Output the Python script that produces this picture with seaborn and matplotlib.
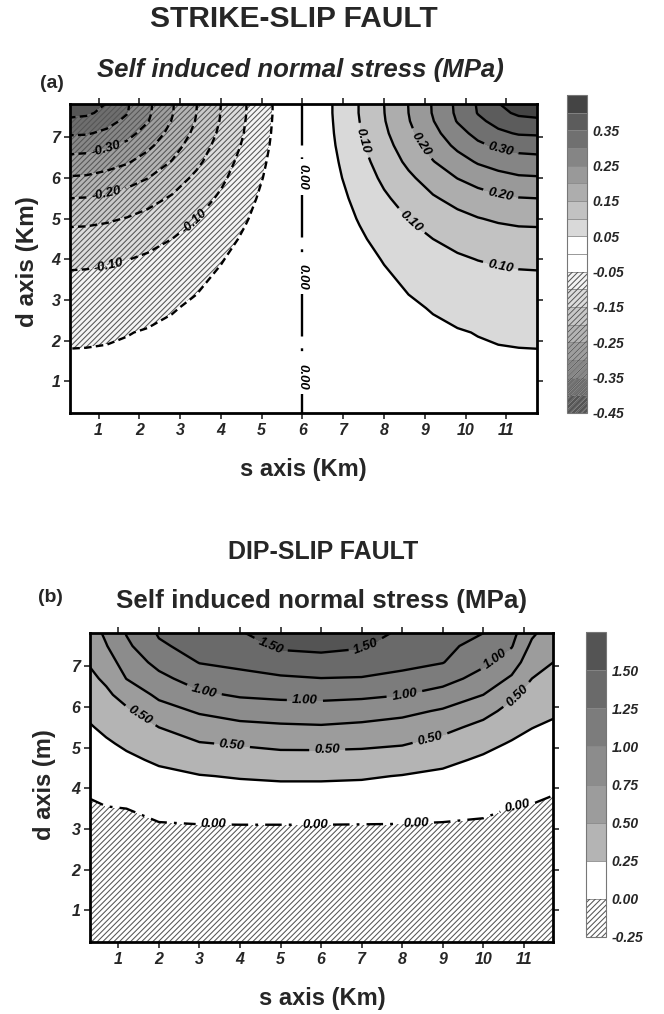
import numpy as np
import matplotlib
matplotlib.use("Agg")
import matplotlib.pyplot as plt
import matplotlib.colors as mcolors
import matplotlib.patches as mpatches
import seaborn as sns

# ------------------------------------------------------------------
# Data (stress in MPa on an s-d grid)
# ------------------------------------------------------------------
# (a) strike-slip fault
s_a_left = [0.25, 0.7, 1.2, 1.7, 2.2, 2.8, 3.4, 4.0, 4.6, 5.1, 5.6]
s_a_right = [6.4, 6.9, 7.4, 8.0, 8.6, 9.2, 9.8, 10.3, 10.8, 11.3, 11.75]
d_a = [0.2, 1.0, 1.6, 2.2, 2.8, 3.4, 4.0, 4.5, 5.0, 5.5, 6.0, 6.4, 6.8, 7.1, 7.4, 7.6, 7.85]

stress_a_left = [
    [-0.039, -0.038, -0.037, -0.035, -0.033, -0.030, -0.026, -0.021, -0.015, -0.010, -0.005],
    [-0.043, -0.043, -0.042, -0.040, -0.038, -0.034, -0.030, -0.024, -0.018, -0.012, -0.005],
    [-0.047, -0.047, -0.046, -0.045, -0.042, -0.038, -0.033, -0.027, -0.020, -0.013, -0.006],
    [-0.056, -0.055, -0.054, -0.051, -0.048, -0.044, -0.038, -0.031, -0.023, -0.015, -0.007],
    [-0.070, -0.069, -0.067, -0.064, -0.059, -0.052, -0.045, -0.036, -0.027, -0.018, -0.008],
    [-0.088, -0.087, -0.084, -0.080, -0.074, -0.065, -0.054, -0.043, -0.031, -0.021, -0.009],
    [-0.110, -0.109, -0.106, -0.101, -0.094, -0.082, -0.068, -0.052, -0.038, -0.025, -0.011],
    [-0.133, -0.132, -0.128, -0.122, -0.113, -0.100, -0.083, -0.064, -0.044, -0.029, -0.013],
    [-0.162, -0.161, -0.156, -0.148, -0.137, -0.120, -0.101, -0.077, -0.053, -0.034, -0.015],
    [-0.200, -0.198, -0.191, -0.180, -0.165, -0.145, -0.119, -0.093, -0.063, -0.039, -0.017],
    [-0.246, -0.244, -0.234, -0.219, -0.201, -0.172, -0.141, -0.109, -0.074, -0.046, -0.019],
    [-0.282, -0.279, -0.270, -0.255, -0.230, -0.198, -0.160, -0.121, -0.083, -0.051, -0.021],
    [-0.322, -0.319, -0.309, -0.290, -0.261, -0.220, -0.176, -0.133, -0.092, -0.056, -0.023],
    [-0.356, -0.354, -0.341, -0.315, -0.282, -0.235, -0.188, -0.141, -0.097, -0.059, -0.024],
    [-0.389, -0.383, -0.365, -0.340, -0.303, -0.248, -0.197, -0.147, -0.100, -0.061, -0.025],
    [-0.416, -0.410, -0.384, -0.352, -0.309, -0.253, -0.200, -0.149, -0.102, -0.062, -0.026],
    [-0.436, -0.422, -0.400, -0.355, -0.311, -0.254, -0.201, -0.150, -0.102, -0.062, -0.026],
]
stress_a_right = [
    [0.005, 0.010, 0.015, 0.021, 0.026, 0.030, 0.033, 0.035, 0.037, 0.038, 0.039],
    [0.005, 0.012, 0.018, 0.024, 0.030, 0.034, 0.038, 0.040, 0.042, 0.043, 0.043],
    [0.006, 0.013, 0.020, 0.027, 0.033, 0.038, 0.042, 0.045, 0.046, 0.047, 0.047],
    [0.007, 0.015, 0.023, 0.031, 0.038, 0.044, 0.048, 0.051, 0.054, 0.055, 0.056],
    [0.008, 0.018, 0.027, 0.036, 0.045, 0.052, 0.059, 0.064, 0.067, 0.069, 0.070],
    [0.009, 0.021, 0.031, 0.043, 0.054, 0.065, 0.074, 0.080, 0.084, 0.087, 0.088],
    [0.011, 0.025, 0.038, 0.052, 0.068, 0.082, 0.094, 0.101, 0.106, 0.109, 0.110],
    [0.013, 0.029, 0.044, 0.064, 0.083, 0.100, 0.113, 0.122, 0.128, 0.132, 0.133],
    [0.015, 0.034, 0.053, 0.077, 0.101, 0.120, 0.137, 0.148, 0.156, 0.161, 0.162],
    [0.017, 0.039, 0.063, 0.093, 0.119, 0.145, 0.165, 0.180, 0.191, 0.198, 0.200],
    [0.019, 0.046, 0.074, 0.109, 0.141, 0.172, 0.201, 0.219, 0.234, 0.244, 0.246],
    [0.021, 0.051, 0.083, 0.121, 0.160, 0.198, 0.230, 0.255, 0.270, 0.279, 0.282],
    [0.023, 0.056, 0.092, 0.133, 0.176, 0.220, 0.261, 0.290, 0.309, 0.319, 0.322],
    [0.024, 0.059, 0.097, 0.141, 0.188, 0.235, 0.282, 0.315, 0.341, 0.354, 0.356],
    [0.025, 0.061, 0.100, 0.147, 0.197, 0.248, 0.303, 0.340, 0.365, 0.383, 0.389],
    [0.026, 0.062, 0.102, 0.149, 0.200, 0.253, 0.309, 0.352, 0.384, 0.410, 0.416],
    [0.026, 0.062, 0.102, 0.150, 0.201, 0.254, 0.311, 0.355, 0.400, 0.422, 0.436],
]

# (b) dip-slip fault
s_b = [0.25, 0.7, 1.2, 2, 3, 4, 5, 6, 7, 8, 9, 10, 10.7, 11.2, 11.75]
d_b = [0.2, 1.5, 2.7, 3.1, 3.5, 3.9, 4.3, 4.7, 5.1, 5.5, 5.9, 6.3, 6.7, 7.1, 7.5, 7.85]
stress_b = [
    [-0.200] * 15,
    [-0.128, -0.124, -0.121, -0.115, -0.112, -0.111, -0.111, -0.111, -0.112, -0.112, -0.115, -0.118, -0.122, -0.126, -0.129],
    [-0.062, -0.054, -0.048, -0.036, -0.030, -0.029, -0.029, -0.029, -0.030, -0.032, -0.036, -0.042, -0.051, -0.057, -0.064],
    [-0.040, -0.030, -0.024, -0.010, -0.003, -0.001, -0.001, -0.001, -0.003, -0.005, -0.010, -0.016, -0.027, -0.034, -0.042],
    [-0.018, -0.007, 0.000, 0.047, 0.074, 0.084, 0.088, 0.088, 0.083, 0.071, 0.049, 0.023, -0.003, -0.011, -0.020],
    [0.009, 0.042, 0.069, 0.122, 0.157, 0.173, 0.181, 0.181, 0.174, 0.156, 0.127, 0.088, 0.052, 0.028, 0.004],
    [0.064, 0.102, 0.139, 0.197, 0.240, 0.266, 0.283, 0.283, 0.273, 0.241, 0.205, 0.153, 0.112, 0.084, 0.057],
    [0.118, 0.163, 0.208, 0.283, 0.361, 0.391, 0.414, 0.414, 0.407, 0.377, 0.303, 0.218, 0.172, 0.140, 0.110],
    [0.172, 0.223, 0.285, 0.391, 0.487, 0.520, 0.555, 0.558, 0.545, 0.517, 0.428, 0.311, 0.232, 0.197, 0.164],
    [0.226, 0.294, 0.374, 0.500, 0.629, 0.684, 0.711, 0.725, 0.697, 0.656, 0.566, 0.433, 0.321, 0.254, 0.217],
    [0.291, 0.374, 0.462, 0.652, 0.777, 0.855, 0.882, 0.892, 0.866, 0.813, 0.723, 0.578, 0.423, 0.336, 0.277],
    [0.365, 0.454, 0.594, 0.798, 0.955, 1.027, 1.053, 1.064, 1.047, 1.005, 0.906, 0.750, 0.543, 0.418, 0.350],
    [0.439, 0.542, 0.755, 0.935, 1.115, 1.181, 1.217, 1.245, 1.236, 1.193, 1.094, 0.909, 0.716, 0.500, 0.423],
    [0.510, 0.640, 0.853, 1.074, 1.259, 1.304, 1.390, 1.421, 1.388, 1.310, 1.259, 1.048, 0.875, 0.600, 0.496],
    [0.569, 0.738, 0.951, 1.215, 1.334, 1.403, 1.536, 1.554, 1.522, 1.395, 1.313, 1.160, 1.015, 0.700, 0.562],
    [0.620, 0.800, 1.020, 1.280, 1.400, 1.490, 1.620, 1.640, 1.600, 1.470, 1.360, 1.260, 1.080, 0.800, 0.620],
]

levels_a = [-0.45, -0.40, -0.35, -0.30, -0.25, -0.20, -0.15, -0.10, -0.05, 0.0,
            0.05, 0.10, 0.15, 0.20, 0.25, 0.30, 0.35, 0.40, 0.45]
cbar_ticks_a = [-0.45, -0.35, -0.25, -0.15, -0.05, 0.05, 0.15, 0.25, 0.35]
levels_b = [-0.25, 0.0, 0.25, 0.5, 0.75, 1.0, 1.25, 1.5, 1.75]
cbar_ticks_b = [-0.25, 0.0, 0.25, 0.5, 0.75, 1.0, 1.25, 1.5]
x_ticks = list(range(1, 12))
y_ticks = list(range(1, 8))

# ------------------------------------------------------------------
# Style
# ------------------------------------------------------------------
sns.set_style("ticks")
plt.rcParams["font.family"] = ["Liberation Sans", "DejaVu Sans"]
plt.rcParams["hatch.color"] = "#555555"
plt.rcParams["hatch.linewidth"] = 0.75
HATCH_RGBA = mcolors.to_rgba("#555555")

fig = plt.figure(figsize=(6.64, 10.14), dpi=100)
W, H = 664, 1014


def box(l, t, r, b):
    return [l / W, 1 - b / H, (r - l) / W, (b - t) / H]


colors_a = ["#555555", "#6e6e6e", "#878787", "#9e9e9e", "#b4b4b4", "#c8c8c8", "#dcdcdc", "#f4f4f4",
            "#ffffff", "#ffffff", "#d9d9d9", "#c2c2c2", "#adadad", "#999999", "#858585", "#707070",
            "#5c5c5c", "#444444"]
HP = "//////"
hatch_a = [HP] * 8 + [None] * 10
colors_b = ["#ffffff", "#ffffff", "#b4b4b4", "#9c9c9c", "#8c8c8c", "#7c7c7c", "#6a6a6a", "#545454"]
hatch_b = [HP] + [None] * 7


def fix_hatch(cf):
    if hasattr(cf, "set_hatchcolor"):
        cf.set_hatchcolor(HATCH_RGBA)
    cf._hatch_color = HATCH_RGBA


def style_axes(ax, xlim, ylim):
    ax.set_xlim(*xlim)
    ax.set_ylim(*ylim)
    ax.set_xticks(x_ticks)
    ax.set_yticks(y_ticks)
    ax.tick_params(direction="out", top=True, right=True, length=4, width=1.2,
                   labelsize=11.5, pad=3)
    for lab in ax.get_xticklabels() + ax.get_yticklabels():
        lab.set_fontweight("bold")
        lab.set_fontstyle("italic")
    for sp in ax.spines.values():
        sp.set_linewidth(2.0)
        sp.set_color("black")


def style_cbar(cb, ticks, levels, hatches):
    # make sure hatched level blocks show their hatch in the colour bar
    for lo, hi, h in zip(levels[:-1], levels[1:], hatches):
        if h:
            cb.ax.add_patch(mpatches.Rectangle((0, lo), 1, hi - lo, facecolor="none",
                                               hatch=h, linewidth=0, edgecolor=HATCH_RGBA,
                                               zorder=2))
    cb.set_ticks(ticks)
    cb.ax.set_yticklabels([f"{t:.2f}" for t in ticks])
    cb.ax.tick_params(length=0, pad=4, labelsize=10)
    for lab in cb.ax.get_yticklabels():
        lab.set_fontweight("bold")
        lab.set_fontstyle("italic")
    cb.outline.set_linewidth(0.8)
    cb.outline.set_edgecolor("#777777")
    cb.dividers.set_color("#888888")
    cb.dividers.set_linewidth(0.6)


def label_style(texts):
    for t in texts:
        t.set_fontweight("bold")
        t.set_fontstyle("italic")


LW = 1.7
DASH = [(0, (3.2, 1.8))]
CL = 9.5

# ------------------------------------------------------------------
# Panel (a)
# ------------------------------------------------------------------
s_a = s_a_left + s_a_right
stress_a = np.hstack([np.array(stress_a_left), np.array(stress_a_right)])
Sa, Da = np.meshgrid(s_a, d_a)

axa = fig.add_axes(box(70, 104, 537, 413))
cfa = axa.contourf(Sa, Da, stress_a, levels=levels_a, colors=colors_a, hatches=hatch_a)
fix_hatch(cfa)
axa.contour(Sa, Da, stress_a, levels=[-0.40, -0.35, -0.25, -0.15, -0.05], colors="k",
            linewidths=LW, linestyles=DASH)
neg = axa.contour(Sa, Da, stress_a, levels=[-0.30, -0.20, -0.10], colors="k",
                  linewidths=LW, linestyles=DASH)
zer = axa.contour(Sa, Da, stress_a, levels=[0.0], colors="k", linewidths=LW,
                  linestyles=[(0, (18, 5, 1.2, 5))])
axa.contour(Sa, Da, stress_a, levels=[0.05, 0.15, 0.25, 0.35, 0.40], colors="k",
            linewidths=LW, linestyles="solid")
pos = axa.contour(Sa, Da, stress_a, levels=[0.10, 0.20, 0.30], colors="k",
                  linewidths=LW, linestyles="solid")
t1 = axa.clabel(pos, fmt="%.2f", fontsize=CL, inline=True,
                manual=[(7.4, 6.9), (8.55, 4.8), (10.84, 3.74), (8.8, 6.77), (10.84, 5.5), (10.84, 6.57)])
t2 = axa.clabel(neg, fmt="%.2f", fontsize=CL, inline=True,
                manual=[(1.2, 6.6), (1.2, 5.54), (3.4, 4.89), (1.28, 3.78)])
t3 = axa.clabel(zer, fmt="%.2f", fontsize=CL, inline=True,
                manual=[(6.0, 6.03), (6.0, 3.58), (6.0, 1.12)])
label_style(list(t1) + list(t2) + list(t3))
style_axes(axa, (0.3, 11.75), (0.22, 7.82))

caxa = fig.add_axes(box(567, 95, 587, 413))
cba = fig.colorbar(cfa, cax=caxa, drawedges=True)
style_cbar(cba, cbar_ticks_a, levels_a, hatch_a)

# ------------------------------------------------------------------
# Panel (b)
# ------------------------------------------------------------------
Sb, Db = np.meshgrid(s_b, d_b)
stress_b_arr = np.array(stress_b)

axb = fig.add_axes(box(90, 633, 553, 942))
cfb = axb.contourf(Sb, Db, stress_b_arr, levels=levels_b, colors=colors_b, hatches=hatch_b)
fix_hatch(cfb)
zb = axb.contour(Sb, Db, stress_b_arr, levels=[0.0], colors="k", linewidths=LW,
                 linestyles=[(0, (7, 3, 1.2, 3))])
axb.contour(Sb, Db, stress_b_arr, levels=[0.25, 0.75, 1.25], colors="k", linewidths=LW,
            linestyles="solid")
pb = axb.contour(Sb, Db, stress_b_arr, levels=[0.5, 1.0, 1.5], colors="k", linewidths=LW,
                 linestyles="solid")
u1 = axb.clabel(pb, fmt="%.2f", fontsize=CL, inline=True,
                manual=[(4.7, 7.36), (7.16, 7.36), (3.1, 6.33), (5.6, 6.13), (8.06, 6.29),
                        (10.35, 7.11), (1.5, 5.72), (3.8, 5.02), (6.15, 4.96), (8.7, 5.18),
                        (10.9, 6.21)])
u2 = axb.clabel(zb, fmt="%.2f", fontsize=CL, inline=True,
                manual=[(3.35, 3.14), (5.85, 3.09), (8.34, 3.14), (10.84, 3.58)])
label_style(list(u1) + list(u2))
style_axes(axb, (0.3, 11.72), (0.22, 7.82))

caxb = fig.add_axes(box(586, 632, 606, 937))
cbb = fig.colorbar(cfb, cax=caxb, drawedges=True)
style_cbar(cbb, cbar_ticks_b, levels_b, hatch_b)

# ------------------------------------------------------------------
# Texts
# ------------------------------------------------------------------
fig.text(294 / W, 1 - 19 / H, "STRIKE-SLIP FAULT", ha="center", va="center", fontsize=21.5,
         fontweight="bold")
fig.text(52 / W, 1 - 83 / H, "(a)", ha="center", va="center", fontsize=14, fontweight="bold")
fig.text(300 / W, 1 - 70 / H, "Self induced normal stress (MPa)", ha="center", va="center",
         fontsize=18.5, fontweight="bold", fontstyle="italic")
fig.text(303 / W, 1 - 470 / H, "s axis (Km)", ha="center", va="center", fontsize=17, fontweight="bold")
fig.text(28 / W, 1 - 262 / H, "d axis (Km)", ha="center", va="center", rotation=90, fontsize=17.5,
         fontweight="bold")
fig.text(323 / W, 1 - 552 / H, "DIP-SLIP FAULT", ha="center", va="center", fontsize=18, fontweight="bold")
fig.text(50 / W, 1 - 598 / H, "(b)", ha="center", va="center", fontsize=14, fontweight="bold")
fig.text(321 / W, 1 - 601 / H, "Self induced normal stress (MPa)", ha="center", va="center",
         fontsize=18.7, fontweight="bold")
fig.text(322 / W, 1 - 998 / H, "s axis (Km)", ha="center", va="center", fontsize=17, fontweight="bold")
fig.text(45 / W, 1 - 785 / H, "d axis (m)", ha="center", va="center", rotation=90, fontsize=17,
         fontweight="bold")

fig.savefig("out.png", dpi=100)
